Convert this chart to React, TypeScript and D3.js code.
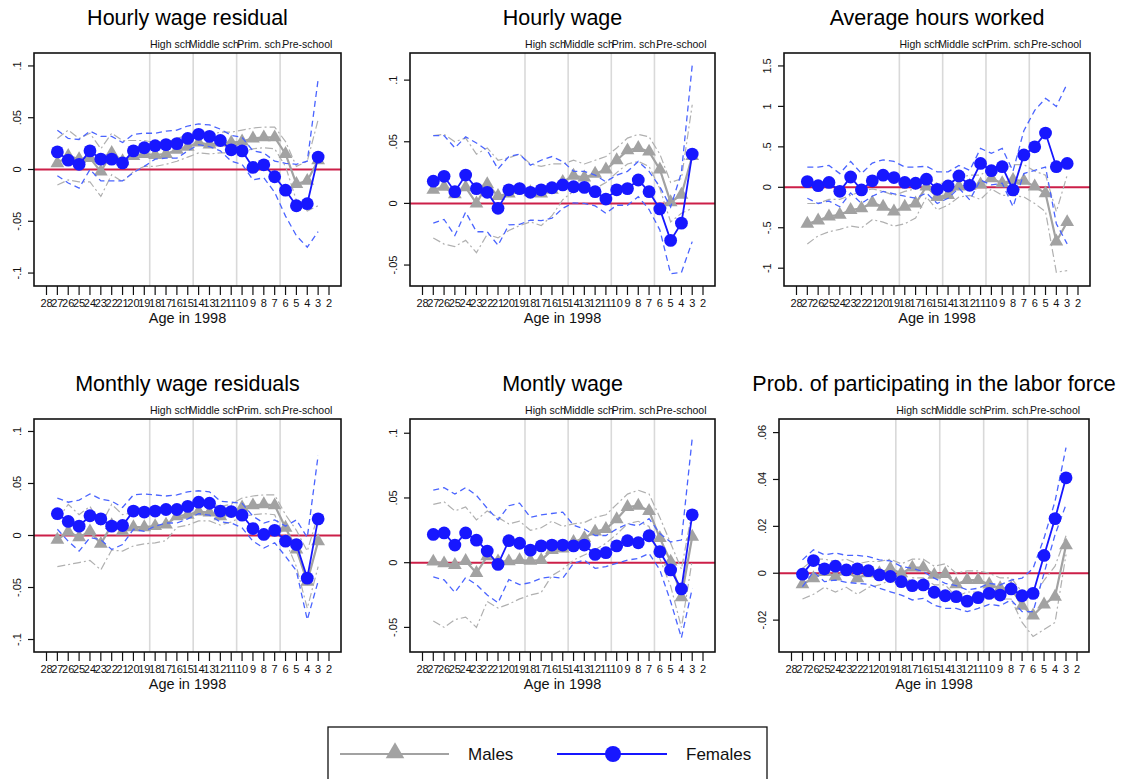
import React from "react";
import * as d3 from "d3";

const ages = [27, 26, 25, 24, 23, 22, 21, 20, 19, 18, 17, 16, 15, 14, 13, 12, 11, 10, 9, 8, 7, 6, 5, 4, 3];
const tickAges = [28, 27, 26, 25, 24, 23, 22, 21, 20, 19, 18, 17, 16, 15, 14, 13, 12, 11, 10, 9, 8, 7, 6, 5, 4, 3, 2];
const schoolCuts = [18.5, 14.5, 10.5, 6.5];
const schoolLabels = ["High sch", "Middle sch", "Prim. sch.", "Pre-school"];
const schoolLabelAt = [16.6, 12.6, 8.3, 4.0];

// Hourly wage residual
const hwrMale = [0.006, 0.013, 0.01, 0.011, -0.002, 0.016, 0.008, 0.013, 0.015, 0.014, 0.015, 0.019, 0.022, 0.026, 0.024, 0.026, 0.026, 0.027, 0.03, 0.031, 0.031, 0.015, -0.014, -0.011, 0.009];
const hwrMaleLo = [-0.015, -0.01, -0.012, -0.012, -0.026, -0.005, -0.012, -0.002, 0.003, 0.003, 0.005, 0.008, 0.012, 0.016, 0.015, 0.016, 0.016, 0.017, 0.02, 0.021, 0.02, 0.003, -0.03, -0.04, -0.035];
const hwrMaleHi = [0.03, 0.038, 0.03, 0.035, 0.02, 0.035, 0.028, 0.028, 0.028, 0.026, 0.026, 0.03, 0.033, 0.036, 0.034, 0.036, 0.036, 0.038, 0.04, 0.041, 0.041, 0.027, 0.003, 0.008, 0.048];
const hwrFem = [0.017, 0.009, 0.005, 0.018, 0.01, 0.01, 0.0064, 0.018, 0.021, 0.023, 0.024, 0.025, 0.03, 0.034, 0.032, 0.028, 0.019, 0.018, 0.002, 0.0045, -0.007, -0.02, -0.035, -0.033, 0.012];
const hwrFemLo = [-0.006, -0.013, -0.018, 0, -0.011, -0.011, -0.011, -0.003, 0.003, 0.01, 0.011, 0.011, 0.018, 0.024, 0.022, 0.018, 0.008, 0.005, -0.01, -0.008, -0.022, -0.045, -0.064, -0.075, -0.06];
const hwrFemHi = [0.038, 0.03, 0.029, 0.037, 0.032, 0.032, 0.026, 0.034, 0.035, 0.035, 0.037, 0.038, 0.042, 0.044, 0.043, 0.039, 0.033, 0.031, 0.018, 0.016, 0.008, 0.006, 0.005, 0.008, 0.087];

// Hourly wage
const hwMale = [0.011, 0.0135, 0.0075, 0.013, 0, 0.0155, 0.006, 0.008, 0.011, 0.009, 0.008, 0.011, 0.0175, 0.0225, 0.021, 0.024, 0.0275, 0.035, 0.043, 0.045, 0.042, 0.0275, 0.001, 0.007, 0.0385];
const hwMaleLo = [-0.028, -0.033, -0.035, -0.03, -0.04, -0.025, -0.028, -0.022, -0.018, -0.015, -0.018, -0.01, 0.003, 0.01, 0.01, 0.012, 0.017, 0.025, 0.032, 0.034, 0.03, 0.012, -0.015, -0.008, -0.004];
const hwMaleHi = [0.055, 0.056, 0.05, 0.053, 0.04, 0.045, 0.035, 0.037, 0.04, 0.032, 0.03, 0.032, 0.032, 0.035, 0.032, 0.035, 0.038, 0.045, 0.053, 0.056, 0.054, 0.04, 0.017, 0.02, 0.08];
const hwFem = [0.018, 0.022, 0.0095, 0.023, 0.012, 0.009, -0.004, 0.011, 0.012, 0.009, 0.011, 0.0127, 0.015, 0.0135, 0.013, 0.0095, 0.0035, 0.011, 0.012, 0.019, 0.0095, -0.0045, -0.03, -0.016, 0.04];
const hwFemLo = [-0.016, -0.013, -0.026, -0.007, -0.023, -0.023, -0.034, -0.0175, -0.017, -0.0135, -0.014, -0.012, -0.004, 0.0005, 0, -0.002, -0.008, -0.0015, -0.0015, 0.0055, -0.005, -0.0215, -0.057, -0.056, -0.031];
const hwFemHi = [0.055, 0.055, 0.045, 0.054, 0.049, 0.043, 0.028, 0.038, 0.04, 0.031, 0.035, 0.038, 0.034, 0.026, 0.026, 0.023, 0.0175, 0.023, 0.026, 0.034, 0.026, 0.0135, -0.003, 0.025, 0.112];

// Average hours worked
const ahMale = [-0.45, -0.41, -0.36, -0.34, -0.28, -0.26, -0.19, -0.24, -0.3, -0.24, -0.2, 0.01, -0.12, -0.095, 0.01, 0.02, 0.035, 0.11, 0.05, 0.09, 0.08, 0.01, -0.075, -0.67, -0.43];
const ahMaleLo = [-0.7, -0.6, -0.55, -0.52, -0.48, -0.5, -0.4, -0.43, -0.48, -0.45, -0.38, -0.12, -0.28, -0.22, -0.12, -0.1, -0.15, -0.02, -0.1, -0.1, -0.12, -0.2, -0.3, -1.05, -1.03];
const ahMaleHi = [-0.2, -0.2, -0.15, -0.15, -0.1, -0.05, -0.02, -0.05, -0.1, -0.05, -0.02, 0.12, 0.05, 0.05, 0.12, 0.15, 0.15, 0.25, 0.2, 0.28, 0.28, 0.2, 0.15, -0.3, 0.15];
const ahFem = [0.07, 0.02, 0.06, -0.05, 0.127, -0.033, 0.08, 0.15, 0.12, 0.06, 0.05, 0.1, -0.025, 0.016, 0.14, 0.025, 0.295, 0.205, 0.255, -0.033, 0.4, 0.5, 0.67, 0.255, 0.295];
const ahFemLo = [-0.135, -0.2, -0.17, -0.24, -0.07, -0.2, -0.11, -0.05, -0.08, -0.11, -0.135, -0.07, -0.2, -0.135, -0.01, -0.155, 0.09, 0.03, 0.05, -0.24, 0.17, 0.21, 0.25, -0.45, -0.7];
const ahFemHi = [0.25, 0.25, 0.27, 0.17, 0.32, 0.17, 0.3, 0.34, 0.32, 0.25, 0.25, 0.26, 0.19, 0.19, 0.27, 0.21, 0.48, 0.42, 0.48, 0.2, 0.7, 0.95, 1.1, 1.0, 1.28];

// Monthly wage residuals
const mwrMale = [-0.004, 0.0035, -0.0016, 0.004, -0.008, 0.01, 0.004, 0.008, 0.008, 0.009, 0.0105, 0.0185, 0.02, 0.023, 0.022, 0.0185, 0.022, 0.027, 0.029, 0.03, 0.029, 0.0075, -0.0135, -0.0445, -0.0055];
const mwrMaleLo = [-0.03, -0.028, -0.026, -0.024, -0.033, -0.014, -0.015, -0.01, -0.008, -0.007, -0.005, 0.008, 0.01, 0.014, 0.014, 0.01, 0.013, 0.018, 0.02, 0.021, 0.02, -0.005, -0.03, -0.07, -0.03];
const mwrMaleHi = [0.015, 0.03, 0.02, 0.028, 0.01, 0.03, 0.02, 0.022, 0.022, 0.022, 0.023, 0.028, 0.03, 0.032, 0.031, 0.028, 0.03, 0.036, 0.038, 0.039, 0.039, 0.02, 0.005, -0.015, 0.02];
const mwrFem = [0.021, 0.0135, 0.009, 0.019, 0.016, 0.009, 0.0096, 0.0235, 0.0225, 0.0235, 0.025, 0.025, 0.028, 0.032, 0.031, 0.0235, 0.023, 0.0195, 0.0067, 0.001, 0.005, -0.0055, -0.0087, -0.041, 0.016];
const mwrFemLo = [0.006, -0.0055, -0.015, -0.002, -0.004, -0.0135, -0.0087, 0.006, 0.004, 0.009, 0.012, 0.012, 0.016, 0.021, 0.0195, 0.013, 0.012, 0.0074, -0.0055, -0.012, -0.007, -0.02, -0.034, -0.081, -0.044];
const mwrFemHi = [0.036, 0.032, 0.034, 0.04, 0.035, 0.033, 0.027, 0.039, 0.04, 0.039, 0.038, 0.039, 0.042, 0.043, 0.042, 0.033, 0.032, 0.031, 0.0185, 0.012, 0.015, 0.009, 0.015, -0.002, 0.077];

// Montly wage
const mwMale = [0.0008, -0.0005, -0.0018, 0.0013, -0.008, 0.005, 0.001, 0.001, 0.002, 0.0015, 0.002, 0.0097, 0.011, 0.016, 0.019, 0.024, 0.026, 0.0335, 0.043, 0.044, 0.04, 0.019, 0.0008, -0.0267, 0.02];
const mwMaleLo = [-0.045, -0.05, -0.044, -0.042, -0.05, -0.03, -0.035, -0.032, -0.028, -0.025, -0.023, -0.01, -0.005, 0.002, 0.006, 0.01, 0.015, 0.022, 0.03, 0.032, 0.028, 0.003, -0.018, -0.05, 0.002];
const mwMaleHi = [0.045, 0.047, 0.04, 0.043, 0.033, 0.04, 0.035, 0.03, 0.032, 0.025, 0.027, 0.032, 0.028, 0.03, 0.031, 0.035, 0.037, 0.045, 0.053, 0.056, 0.053, 0.035, 0.015, -0.005, 0.04];
const mwFem = [0.0218, 0.023, 0.0136, 0.023, 0.0174, 0.009, -0.0013, 0.017, 0.015, 0.0097, 0.013, 0.0136, 0.0136, 0.013, 0.0136, 0.0064, 0.0077, 0.013, 0.017, 0.0154, 0.0208, 0.0085, -0.0056, -0.0203, 0.037];
const mwFemLo = [-0.011, -0.0133, -0.023, -0.0115, -0.017, -0.025, -0.031, -0.013, -0.017, -0.0154, -0.012, -0.011, -0.012, -0.0005, 0.002, -0.0044, -0.003, -0.0005, 0.002, 0.0033, 0.0072, -0.0056, -0.03, -0.058, -0.02];
const mwFemHi = [0.056, 0.058, 0.053, 0.058, 0.052, 0.042, 0.033, 0.044, 0.046, 0.035, 0.037, 0.038, 0.039, 0.029, 0.026, 0.021, 0.021, 0.026, 0.03, 0.0285, 0.034, 0.0225, 0.016, 0.0175, 0.096];

// Prob. of participating in the labor force
const plfMale = [-0.0047, -0.0021, 0.0005, -0.0014, 0.0007, -0.0021, 0, 0, 0.0019, 0, 0.0024, 0.0024, -0.0007, -0.0003, -0.0047, -0.0029, -0.0029, -0.0047, -0.0064, -0.0064, -0.0139, -0.018, -0.0133, -0.01, 0.0119];
const plfMaleLo = [-0.011, -0.009, -0.006, -0.008, -0.006, -0.009, -0.006, -0.005, -0.003, -0.005, -0.002, -0.002, -0.005, -0.005, -0.01, -0.008, -0.008, -0.01, -0.011, -0.011, -0.021, -0.027, -0.024, -0.021, 0.008];
const plfMaleHi = [0.002, 0.006, 0.006, 0.005, 0.006, 0.004, 0.005, 0.005, 0.006, 0.004, 0.006, 0.006, 0.003, 0.004, 0, 0.001, 0.001, 0, -0.002, -0.002, -0.008, -0.011, -0.003, 0.003, 0.016];
const plfFem = [-0.0004, 0.0054, 0.0019, 0.003, 0.0014, 0.0019, 0.0011, -0.0007, -0.0014, -0.0036, -0.0053, -0.005, -0.0081, -0.0096, -0.01, -0.0119, -0.0104, -0.0086, -0.0093, -0.0067, -0.0096, -0.0086, 0.0076, 0.0233, 0.0407];
const plfFemLo = [-0.0057, 0.0007, -0.0036, -0.0029, -0.0039, -0.0043, -0.0047, -0.0064, -0.0079, -0.0093, -0.0114, -0.0107, -0.0136, -0.015, -0.015, -0.0164, -0.015, -0.0133, -0.0139, -0.0114, -0.0164, -0.0164, 0, 0.0164, 0.0293];
const plfFemHi = [0.0057, 0.01, 0.0079, 0.0086, 0.0076, 0.0076, 0.0071, 0.0057, 0.0053, 0.0029, 0.0021, 0.0007, -0.0021, -0.0043, -0.0053, -0.0071, -0.0064, -0.0043, -0.005, -0.0029, -0.0021, 0.0021, 0.015, 0.0307, 0.0536];

const MALE = "#a2a2a2";
const FEM = "#1717ff";
const FEM_CI = "#4a64ff";
const ZERO = "#cc1f48";
const FONT = "'Liberation Sans', Arial, Helvetica, sans-serif";

type Box = { x0: number; x1: number; y0: number; y1: number };
type PanelSpec = {
  title: string;
  male: number[]; maleLo: number[]; maleHi: number[];
  fem: number[]; femLo: number[]; femHi: number[];
  yDomain: [number, number];
  yTicks: number[];
  box: Box;
};

const panels: PanelSpec[] = [
  { title: "Hourly wage residual", male: hwrMale, maleLo: hwrMaleLo, maleHi: hwrMaleHi, fem: hwrFem, femLo: hwrFemLo, femHi: hwrFemHi,
    yDomain: [-0.1125, 0.1125], yTicks: [-0.1, -0.05, 0, 0.05, 0.1], box: { x0: 34, x1: 341, y0: 53, y1: 286 } },
  { title: "Hourly wage", male: hwMale, maleLo: hwMaleLo, maleHi: hwMaleHi, fem: hwFem, femLo: hwFemLo, femHi: hwFemHi,
    yDomain: [-0.067, 0.122], yTicks: [-0.05, 0, 0.05, 0.1], box: { x0: 410, x1: 715, y0: 53, y1: 286 } },
  { title: "Average hours worked", male: ahMale, maleLo: ahMaleLo, maleHi: ahMaleHi, fem: ahFem, femLo: ahFemLo, femHi: ahFemHi,
    yDomain: [-1.22, 1.66], yTicks: [-1, -0.5, 0, 0.5, 1, 1.5], box: { x0: 784, x1: 1090, y0: 53, y1: 286 } },
  { title: "Monthly wage residuals", male: mwrMale, maleLo: mwrMaleLo, maleHi: mwrMaleHi, fem: mwrFem, femLo: mwrFemLo, femHi: mwrFemHi,
    yDomain: [-0.112, 0.112], yTicks: [-0.1, -0.05, 0, 0.05, 0.1], box: { x0: 34, x1: 341, y0: 419, y1: 652 } },
  { title: "Montly wage", male: mwMale, maleLo: mwMaleLo, maleHi: mwMaleHi, fem: mwFem, femLo: mwFemLo, femHi: mwFemHi,
    yDomain: [-0.069, 0.111], yTicks: [-0.05, 0, 0.05, 0.1], box: { x0: 410, x1: 715, y0: 419, y1: 652 } },
  { title: "Prob. of participating in the labor force", male: plfMale, maleLo: plfMaleLo, maleHi: plfMaleHi, fem: plfFem, femLo: plfFemLo, femHi: plfFemHi,
    yDomain: [-0.0336, 0.0658], yTicks: [-0.02, 0, 0.02, 0.04, 0.06], box: { x0: 779, x1: 1089, y0: 419, y1: 652 } },
];

// stata style: drop the leading zero
const fmt = (v: number) => String(v).replace(/^(-?)0\./, "$1.");

const triangle = d3.symbol().type(d3.symbolTriangle).size(82)();

function Panel({ p }: { p: PanelSpec }) {
  const { box } = p;
  const x = d3.scaleLinear().domain([28, 2]).range([box.x0 + 12.5, box.x1 - 12]);
  const y = d3.scaleLinear().domain(p.yDomain).range([box.y1, box.y0]);
  const line = (vals: number[]) =>
    d3.line<number>().x((_, i) => x(ages[i])).y((d) => y(d))(vals) || "";
  const cx = (box.x0 + box.x1) / 2;

  return (
    <g>
      <text x={cx} y={box.y0 - 28} textAnchor="middle" fontSize={21.5} fill="#000">{p.title}</text>
      {schoolLabels.map((s, i) => (
        <text key={s} x={x(schoolLabelAt[i])} y={box.y0 - 5.3} textAnchor="middle" fontSize={10.5} fill="#111">{s}</text>
      ))}
      <rect x={box.x0} y={box.y0} width={box.x1 - box.x0} height={box.y1 - box.y0} fill="#fff" />
      {schoolCuts.map((c) => (
        <line key={c} x1={x(c)} x2={x(c)} y1={box.y0} y2={box.y1} stroke="#d9d9d9" strokeWidth={1.6} />
      ))}
      <line x1={box.x0} x2={box.x1} y1={y(0)} y2={y(0)} stroke={ZERO} strokeWidth={2} />

      <path d={line(p.maleLo)} fill="none" stroke="#b0b0b0" strokeWidth={1.2} strokeDasharray="8,3,2,3" />
      <path d={line(p.maleHi)} fill="none" stroke="#b0b0b0" strokeWidth={1.2} strokeDasharray="8,3,2,3" />
      <path d={line(p.male)} fill="none" stroke={MALE} strokeWidth={2.2} />
      {p.male.map((v, i) => (
        <path key={i} d={triangle} transform={`translate(${x(ages[i])},${y(v)})`} fill={MALE} />
      ))}

      <path d={line(p.femLo)} fill="none" stroke={FEM_CI} strokeWidth={1.3} strokeDasharray="6,4" />
      <path d={line(p.femHi)} fill="none" stroke={FEM_CI} strokeWidth={1.3} strokeDasharray="6,4" />
      <path d={line(p.fem)} fill="none" stroke={FEM} strokeWidth={1.8} />
      {p.fem.map((v, i) => (
        <circle key={i} cx={x(ages[i])} cy={y(v)} r={6.4} fill={FEM} />
      ))}

      <rect x={box.x0} y={box.y0} width={box.x1 - box.x0} height={box.y1 - box.y0} fill="none" stroke="#111" strokeWidth={1.6} />

      {p.yTicks.map((t) => (
        <g key={t}>
          <line x1={box.x0 - 6} x2={box.x0} y1={y(t)} y2={y(t)} stroke="#111" strokeWidth={1.2} />
          <text transform={`translate(${box.x0 - 13},${y(t)}) rotate(-90)`} textAnchor="middle" fontSize={11} fill="#111">{fmt(t)}</text>
        </g>
      ))}
      {tickAges.map((a) => (
        <g key={a}>
          <line x1={x(a)} x2={x(a)} y1={box.y1} y2={box.y1 + 9} stroke="#111" strokeWidth={1.2} />
          <text x={x(a)} y={box.y1 + 20.5} textAnchor="middle" fontSize={11} fill="#111">{a}</text>
        </g>
      ))}
      <text x={cx} y={box.y1 + 37.3} textAnchor="middle" fontSize={14.5} fill="#111">Age in 1998</text>
    </g>
  );
}

export default function App() {
  return (
    <svg width={1122} height={779} style={{ position: "absolute", left: 0, top: 0, background: "#fff" }} fontFamily={FONT}>
      <rect width={1122} height={779} fill="#fff" />
      {panels.map((p) => (
        <Panel key={p.title} p={p} />
      ))}
      <g>
        <rect x={328} y={727} width={439} height={70} fill="#fff" stroke="#111" strokeWidth={1.3} />
        <line x1={340} x2={449} y1={754} y2={754} stroke={MALE} strokeWidth={2.2} />
        <path d={d3.symbol().type(d3.symbolTriangle).size(150)() || ""} transform="translate(395,753)" fill={MALE} />
        <text x={468} y={760} fontSize={17} fill="#111">Males</text>
        <line x1={557} x2={667} y1={754} y2={754} stroke={FEM} strokeWidth={2} />
        <circle cx={613} cy={754} r={8} fill={FEM} />
        <text x={686} y={760} fontSize={17} fill="#111">Females</text>
      </g>
    </svg>
  );
}
